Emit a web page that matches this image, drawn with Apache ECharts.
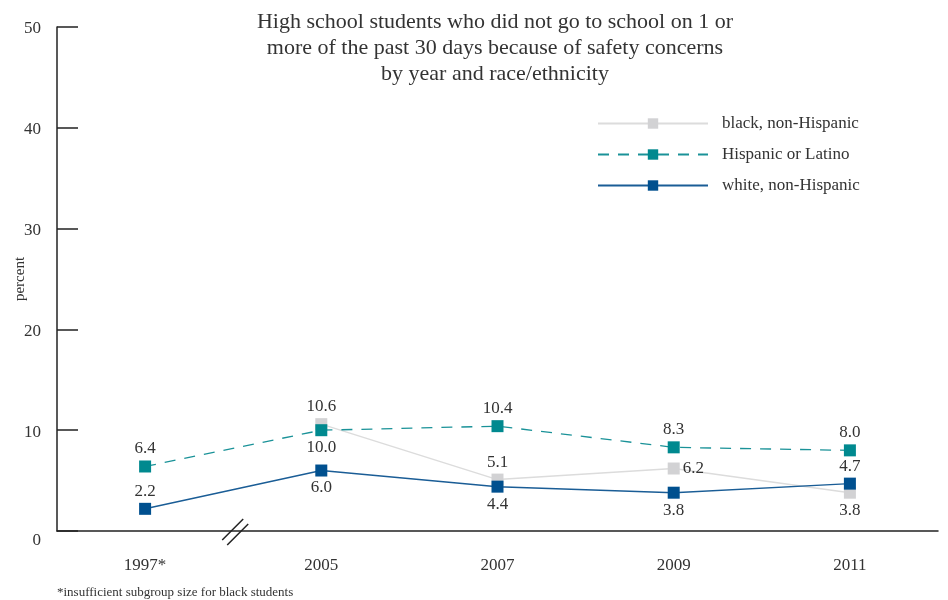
<!DOCTYPE html>
<html><head><meta charset="utf-8">
<script src="https://cdn.jsdelivr.net/npm/echarts@6/dist/echarts.min.js"></script>
<style>html,body{margin:0;padding:0;background:#fff}#c{width:948px;height:600px}</style>
</head><body><div id="c"></div>
<script>
const categories = ['1997*', '2005', '2007', '2009', '2011'];
const blackVals = [null, 10.6, 5.1, 6.2, 3.8];
const hispVals = [6.4, 10.0, 10.4, 8.3, 8.0];
const whiteVals = [2.2, 6.0, 4.4, 3.8, 4.7];
const blackPos = ['top', 'top', 'top', 'right', 'bottom'];
const hispPos = ['top', 'bottom', 'top', 'top', 'top'];
const whitePos = ['top', 'bottom', 'bottom', 'bottom', 'top'];
const yTicks = [0, 10, 20, 30, 40, 50];

const FONT = '"Liberation Serif", "DejaVu Serif", serif';
const TXT = '#333333';

function mk(vals, pos) {
  return vals.map((v, i) => ({
    value: v,
    label: { position: pos[i] }
  }));
}
const lbl = { show: true, fontFamily: FONT, fontSize: 17, color: TXT, distance: 3,
  formatter: p => p.value == null ? '' : Number(p.value).toFixed(1) };

const chart = echarts.init(document.getElementById('c'), null, { renderer: 'canvas' });
chart.setOption({
  animation: false,
  backgroundColor: '#ffffff',
  title: {
    text: 'High school students who did not go to school on 1 or\nmore of the past 30 days because of safety concerns\nby year and race/ethnicity',
    left: 495, top: 9, textAlign: 'center', padding: 0,
    textStyle: { fontFamily: FONT, fontSize: 22, fontWeight: 'normal', color: TXT, lineHeight: 26 }
  },
  legend: {
    orient: 'vertical', left: 597, top: 115, itemWidth: 110, itemHeight: 13, itemGap: 14, padding: 0,
    textStyle: { fontFamily: FONT, fontSize: 17, color: TXT, padding: [0, 0, 0, 9] },
    data: ['black, non-Hispanic', 'Hispanic or Latino', 'white, non-Hispanic']
  },
  grid: { left: 57, right: 10, top: 27, bottom: 69, outerBoundsMode: 'none', containLabel: false },
  xAxis: {
    type: 'category', data: categories, boundaryGap: true,
    axisLine: { lineStyle: { color: '#222', width: 1.5 } },
    axisTick: { inside: true, length: 12, alignWithLabel: true, lineStyle: { color: '#444', width: 1.5 } },
    axisLabel: { margin: 26, fontFamily: FONT, fontSize: 17, color: TXT }
  },
  yAxis: {
    type: 'value', min: 0, max: 50, interval: 10,
    name: 'percent', nameLocation: 'middle', nameGap: 29, nameMoveOverlap: false,
    nameTextStyle: { fontFamily: FONT, fontSize: 15, color: TXT },
    axisLine: { show: true, lineStyle: { color: '#222', width: 1.5 } },
    axisTick: { show: true, inside: true, length: 21, lineStyle: { color: '#222', width: 1.5 } },
    splitLine: { show: false },
    axisLabel: { margin: 16, fontFamily: FONT, fontSize: 17, color: TXT,
      formatter: v => v === 0 ? '{z|0}' : '{n|' + v + '}',
      rich: { z: { fontFamily: FONT, fontSize: 17, color: TXT, padding: [20, 0, 0, 0] },
              n: { fontFamily: FONT, fontSize: 17, color: TXT, padding: [4, 0, 0, 0] } } }
  },
  series: [
    { name: 'black, non-Hispanic', type: 'line', data: mk(blackVals, blackPos), connectNulls: false,
      symbol: 'rect', symbolSize: 12, itemStyle: { color: '#d2d2d4' },
      lineStyle: { color: '#dcdcdc', width: 1.5 }, label: lbl, z: 2 },
    { name: 'Hispanic or Latino', type: 'line', data: mk(hispVals, hispPos),
      symbol: 'rect', symbolSize: 12, itemStyle: { color: '#00898f' },
      lineStyle: { color: '#1a9298', width: 1.3, type: [11, 9] }, label: lbl, z: 3 },
    { name: 'white, non-Hispanic', type: 'line', data: mk(whiteVals, whitePos),
      symbol: 'rect', symbolSize: 12, itemStyle: { color: '#00508f' },
      lineStyle: { color: '#1a5d96', width: 1.5 }, label: lbl, z: 4 }
  ]
});

// axis break mark between first two categories
const p0 = chart.convertToPixel({ xAxisIndex: 0 }, 0);
const p1 = chart.convertToPixel({ xAxisIndex: 0 }, 1);
const y0 = chart.convertToPixel({ yAxisIndex: 0 }, 0);
const cx = (p0 + p1) / 2 + 2;
chart.setOption({
  graphic: [
    { type: 'text', left: 57, top: 586,
      style: { text: '*insufficient subgroup size for black students', fontFamily: FONT, fontSize: 13, fill: TXT } },
    { type: 'line', shape: { x1: cx - 13, y1: y0 + 9, x2: cx + 8, y2: y0 - 12 }, style: { stroke: '#222', lineWidth: 1.5 }, z: 10 },
    { type: 'line', shape: { x1: cx - 8, y1: y0 + 14, x2: cx + 13, y2: y0 - 7 }, style: { stroke: '#222', lineWidth: 1.5 }, z: 10 }
  ]
});
</script></body></html>
